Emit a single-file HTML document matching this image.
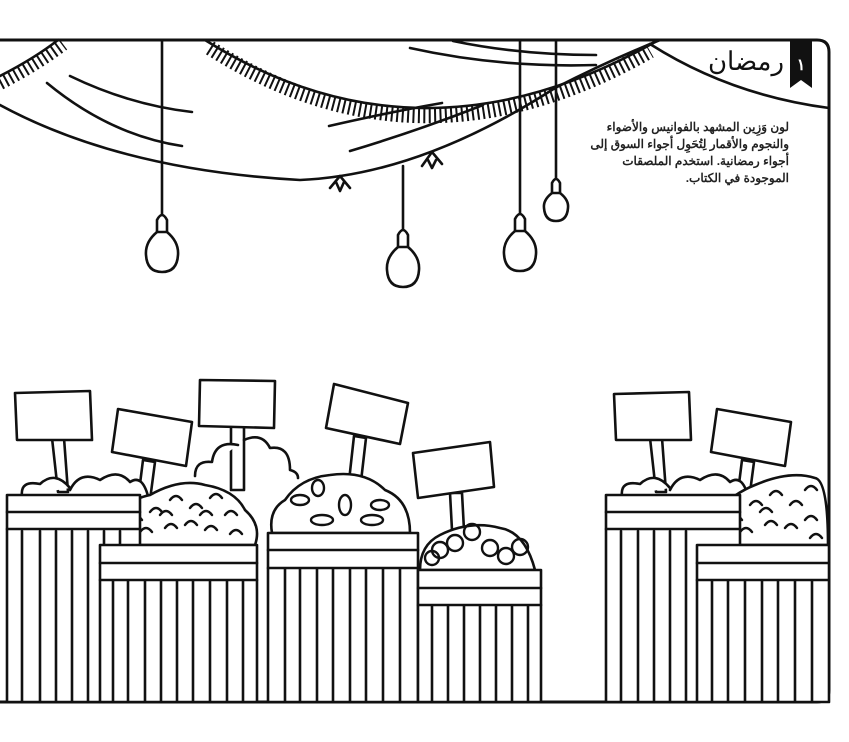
<!DOCTYPE html>
<html><head><meta charset="utf-8"><style>
html,body{margin:0;padding:0;background:#fff;width:849px;height:742px;overflow:hidden}
svg{display:block}
.t{font-family:"Liberation Sans","Noto Sans CJK SC",sans-serif}
</style></head><body>
<svg width="849" height="742" viewBox="0 0 849 742" xmlns="http://www.w3.org/2000/svg">
<g fill="none" stroke="#111" stroke-width="2.6" stroke-linecap="round" stroke-linejoin="round">
<path d="M0 40 H817 Q829 40 829 52 V690 Q829 702 817 702 H0" stroke-width="3"/>
<path d="M650 44 Q730 95 829 108"/>
<path d="M0 76 Q35 58 58 40"/>
<path d="M0 83 Q35 65 63 44" stroke-width="14" stroke-dasharray="2 3.6" stroke-linecap="butt"/>
<path d="M205 40 Q420 175 655 42"/>
<path d="M210 48 Q420 182 650 51" stroke-width="15" stroke-dasharray="2 3.4" stroke-linecap="butt"/>
<path d="M47 83 Q110 135 182 146"/>
<path d="M70 76 Q130 105 192 112"/>
<path d="M329 126 Q390 112 442 103"/>
<path d="M350 151 Q420 130 483 105"/>
<path d="M410 48 Q500 68 596 65"/>
<path d="M453 41 Q520 55 596 55"/>
<path d="M555 88 Q610 60 660 40"/>
<path d="M0 105 Q120 170 300 180 Q420 175 555 88"/>
<path d="M330 188 L340 176 L350 188 M336 182 L340 191 L344 182"/>
<path d="M422 166 L432 152 L442 164 M428 160 L432 168 L436 160"/>
<g>
<path d="M162 40 V215"/><path d="M157 232 V220 Q162 210 167 220 V232Z"/><path d="M157 232 Q145 242 146 255 Q147 272 162 272 Q177 272 178 255 Q179 242 167 232"/>
<path d="M403 166 V230"/><path d="M398 247 V235 Q403 225 408 235 V247Z"/><path d="M398 247 Q386 257 387 270 Q388 287 403 287 Q418 287 419 270 Q420 257 408 247"/>
<path d="M520 40 V214"/><path d="M515 231 V219 Q520 209 525 219 V231Z"/><path d="M515 231 Q503 241 504 254 Q505 271 520 271 Q535 271 536 254 Q537 241 525 231"/>
<path d="M556 40 V178"/><path d="M552 193 V183 Q556 175 560 183 V193Z"/><path d="M552 193 Q543 200 544 208 Q545 221 556 221 Q567 221 568 208 Q569 200 560 193"/>
</g>
<g fill="#fff">
<path d="M52 438 L58 492 L68 492 L64 438Z"/><path d="M15 393 L90 391 L92 440 L17 440Z"/>
<path d="M143 460 L138 500 L150 500 L155 462Z"/><path d="M118 409 L192 422 L186 466 L112 452Z"/>
<path d="M231 426 V490 H244 V426Z"/><path d="M200 380 L275 381 L274 428 L199 426Z"/>
<path d="M354 436 L348 490 L360 490 L366 438Z"/><path d="M334 384 L408 403 L400 444 L326 428Z"/>
<path d="M450 493 L452 530 L464 530 L462 493Z"/><path d="M413 453 L490 442 L494 487 L418 498Z"/>
<path d="M650 438 L656 492 L666 492 L662 438Z"/><path d="M614 394 L689 392 L691 440 L616 440Z"/>
<path d="M742 460 L737 500 L749 500 L754 462Z"/><path d="M717 409 L791 422 L785 466 L711 452Z"/>
</g>
<g fill="#fff">
<path d="M22 496 Q20 480 40 484 Q55 470 70 488 M70 490 Q80 470 100 480 Q118 468 130 482 Q142 474 148 496"/>
<path d="M195 476 Q195 460 212 462 Q215 440 238 445 M244 440 Q262 432 270 448 Q290 445 290 470 Q298 472 298 478"/>
<path d="M104 545 Q100 525 118 520 Q125 500 150 495 Q180 478 205 485 Q235 490 245 510 Q262 525 255 545Z"/>
<path d="M272 533 Q268 510 285 500 Q300 478 330 475 Q365 470 385 490 Q410 500 410 533Z"/>
<path d="M420 570 Q420 545 440 535 Q470 520 500 528 Q525 532 535 570Z"/>
<path d="M622 496 Q620 480 640 484 Q655 470 670 488 M670 490 Q680 470 700 480 Q718 468 730 482 Q742 474 748 496"/>
<path d="M702 545 Q700 525 715 515 Q730 495 755 485 Q790 470 815 478 Q828 480 828 545Z"/>
</g>
<g stroke-width="2.4">
<path d="M130 520 q6 -8 12 0 M150 512 q6 -8 12 0 M170 500 q6 -8 12 0 M190 508 q6 -8 12 0 M210 498 q6 -8 12 0 M225 515 q6 -8 12 0 M120 535 q6 -8 12 0 M140 532 q6 -8 12 0 M165 528 q6 -8 12 0 M185 525 q6 -8 12 0 M205 530 q6 -8 12 0 M230 534 q6 -8 12 0 M160 515 q6 -8 12 0 M200 515 q6 -8 12 0"/>
<ellipse cx="300" cy="500" rx="9" ry="5"/><ellipse cx="322" cy="520" rx="11" ry="5"/><ellipse cx="345" cy="505" rx="6" ry="10"/><ellipse cx="372" cy="520" rx="11" ry="5"/><ellipse cx="380" cy="505" rx="9" ry="5"/><ellipse cx="318" cy="488" rx="6" ry="8"/>
<circle cx="440" cy="550" r="8"/><circle cx="455" cy="543" r="8"/><circle cx="472" cy="532" r="8"/><circle cx="490" cy="548" r="8"/><circle cx="506" cy="556" r="8"/><circle cx="520" cy="547" r="8"/><circle cx="432" cy="558" r="7"/>
<path d="M730 520 q6 -8 12 0 M750 505 q6 -8 12 0 M770 495 q6 -8 12 0 M790 505 q6 -8 12 0 M805 490 q6 -8 12 0 M720 535 q6 -8 12 0 M740 532 q6 -8 12 0 M765 525 q6 -8 12 0 M785 528 q6 -8 12 0 M805 520 q6 -8 12 0 M760 512 q6 -8 12 0 M810 538 q6 -8 12 0"/>
</g>
<g fill="#fff">
<rect x="7" y="495" width="133" height="207"/><path d="M7 512 H140 M7 529 H140"/>
<path d="M22 531 V702 M40 531 V702 M56 531 V702 M72 531 V702 M88 531 V702 M104 531 V702 M120 531 V702"/>
<rect x="100" y="545" width="157" height="157"/><path d="M100 563 H257 M100 580 H257"/>
<path d="M113 581 V702 M128 581 V702 M145 581 V702 M161 581 V702 M177 581 V702 M193 581 V702 M210 581 V702 M227 581 V702 M243 581 V702"/>
<rect x="268" y="533" width="150" height="169"/><path d="M268 550 H418 M268 568 H418"/>
<path d="M285 569 V702 M300 569 V702 M317 569 V702 M333 569 V702 M350 569 V702 M366 569 V702 M383 569 V702 M400 569 V702"/>
<rect x="418" y="570" width="123" height="132"/><path d="M418 588 H541 M418 605 H541"/>
<path d="M432 606 V702 M448 606 V702 M464 606 V702 M480 606 V702 M496 606 V702 M512 606 V702 M528 606 V702"/>
<rect x="606" y="495" width="134" height="207"/><path d="M606 512 H740 M606 529 H740"/>
<path d="M621 531 V702 M638 531 V702 M654 531 V702 M670 531 V702 M686 531 V702"/>
<rect x="697" y="545" width="132" height="157"/><path d="M697 563 H829 M697 580 H829"/>
<path d="M712 581 V702 M728 581 V702 M745 581 V702 M762 581 V702 M778 581 V702 M795 581 V702 M812 581 V702"/>
</g>
</g>
<path d="M790 40 H812 V88 L801 80 L790 88Z" fill="#111"/>
<text x="801" y="70" fill="#fff" font-size="16" text-anchor="middle" class="t" font-weight="bold">١</text>
<text x="784" y="70" font-size="26" text-anchor="start" class="t" fill="#111" direction="rtl">رمضان</text>
<g font-size="12" font-weight="bold" fill="#222" class="t" text-anchor="start" direction="rtl">
<text x="789" y="131">لون وَزِين المشهد بالفوانيس والأضواء</text>
<text x="789" y="148">والنجوم والأقمار لِتُحَوِل أجواء السوق إلى</text>
<text x="789" y="165">أجواء رمضانية.  استخدم الملصقات</text>
<text x="789" y="182">الموجودة في الكتاب.</text>
</g>
</svg>
</body></html>
